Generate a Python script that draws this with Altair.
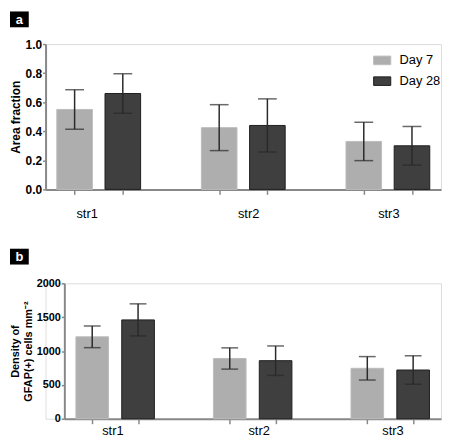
import altair as alt
import pandas as pd

regions = ["str1", "str2", "str3"]
days = ["Day 7", "Day 28"]

area_day7 = [0.55, 0.425, 0.33]
area_day7_err = [0.136, 0.158, 0.132]
area_day28 = [0.66, 0.44, 0.30]
area_day28_err = [0.136, 0.183, 0.133]

dens_day7 = [1210, 890, 745]
dens_day7_err = [160, 157, 173]
dens_day28 = [1460, 858, 720]
dens_day28_err = [237, 217, 210]

area_ticks = [0.0, 0.2, 0.4, 0.6, 0.8, 1.0]
dens_ticks = [0, 500, 1000, 1500, 2000]

# group label positions (in slot units along the x axis)
area_label_pos = [0.76, 4.11, 7.02]
dens_label_pos = [0.95, 4.14, 7.06]

FONT = "Liberation Sans"
FILLS = ["#aeaeae", "#3f3f3f"]
STROKES = ["#bcbcbc", "#1e1e1e"]
W = 400


def make_df(d7, d7e, d28, d28e):
    rows = []
    for gi, r in enumerate(regions):
        for di, (day, m, e) in enumerate([("Day 7", d7[gi], d7e[gi]), ("Day 28", d28[gi], d28e[gi])]):
            rows.append({"region": r, "day": day, "pos": gi * 3 + di + 0.5,
                         "mean": m, "lo": m - e, "hi": m + e})
    return pd.DataFrame(rows)


def panel(df, label_pos, tag, x0, h, bar_w, cap_w, y_title, y_ticks, y_fmt,
          y_max, legend_xy, label_dy, tag_gap, tag_x, title_font, label_font, title_pad):
    xs = alt.Scale(domain=[0, 8], nice=False, zero=False, range=[x0, W])
    ys = alt.Scale(domain=[0, y_max], nice=False)
    x_axis = alt.Axis(values=list(df["pos"]), labels=False, title=None, tickSize=5,
                      domainWidth=2, tickWidth=1.5, grid=False)
    y_axis = alt.Axis(values=y_ticks, format=y_fmt, tickSize=3, labelFontWeight="bold",
                      labelFontSize=label_font, labelPadding=1, titleFontWeight="bold",
                      titleFontSize=title_font, titlePadding=title_pad, grid=False,
                      domainWidth=2, tickWidth=1.5, titleFont=FONT, labelFont=FONT,
                      titleLineHeight=13, offset=-x0)
    base = alt.Chart(df)
    legend = alt.Legend(title=None, orient="none", legendX=legend_xy[0], legendY=legend_xy[1],
                        symbolType="M-1,-0.5H1V0.5H-1Z", symbolSize=300,
                        symbolStrokeWidth=1, labelFontSize=13, labelFont=FONT,
                        rowPadding=4, labelOffset=8, padding=0)
    bars = base.mark_bar(size=bar_w, strokeWidth=1, orient="vertical").encode(
        x=alt.X("pos:Q", scale=xs, axis=x_axis),
        y=alt.Y("mean:Q", scale=ys, axis=y_axis, title=y_title),
        y2=alt.datum(0),
        fill=alt.Fill("day:N", scale=alt.Scale(domain=days, range=FILLS), legend=legend),
        stroke=alt.Stroke("day:N", scale=alt.Scale(domain=days, range=STROKES), legend=legend),
    )
    err = base.mark_errorbar(ticks={"size": cap_w}, thickness=1.5, color="#2a2a2a").encode(
        x=alt.X("pos:Q", scale=xs, axis=x_axis),
        y=alt.Y("lo:Q", scale=ys, axis=y_axis, title=y_title),
        y2="hi:Q",
    )
    lab_df = pd.DataFrame({"region": regions, "lpos": label_pos})
    labels = alt.Chart(lab_df).mark_text(fontSize=13, font=FONT, color="black").encode(
        x=alt.X("lpos:Q", scale=xs, axis=x_axis),
        y=alt.value(h + label_dy),
        text="region:N",
    )
    tag_df = pd.DataFrame({"tag": [tag]})
    tag_box = alt.Chart(tag_df).mark_rect(color="black").encode(
        x=alt.value(tag_x), x2=alt.value(tag_x + 19),
        y=alt.value(-tag_gap), y2=alt.value(-tag_gap + 16),
    )
    tag_txt = alt.Chart(tag_df).mark_text(color="white", fontWeight="bold", fontSize=13,
                                          font=FONT).encode(
        x=alt.value(tag_x + 9.5), y=alt.value(-tag_gap + 8.5), text="tag:N",
    )
    return alt.layer(bars, err, labels, tag_box, tag_txt).properties(width=W, height=h)


df_a = make_df(area_day7, area_day7_err, area_day28, area_day28_err)
df_b = make_df(dens_day7, dens_day7_err, dens_day28, dens_day28_err)

pa = panel(df_a, area_label_pos, "a", 0, 147, 36, 19, "Area fraction", area_ticks, ".1f",
           1.0, (331, 7), 25, 33, -36, 12, 12, 3)
pb = panel(df_b, dens_label_pos, "b", 19, 137, 33, 17, ["Density of", "GFAP(+) cells mm⁻²"],
           dens_ticks, "d", 2000, (342, 5), 12, 35, -36, 11, 11, 3)

chart = alt.VConcatChart(vconcat=[pa, pb], spacing=26, padding=0).configure_view(
    stroke=None
).configure_axis(
    domainColor="black", tickColor="black", labelColor="black", titleColor="black"
).configure(background="white")

chart.save("out.html", embed_options={"renderer": "svg", "actions": False})
